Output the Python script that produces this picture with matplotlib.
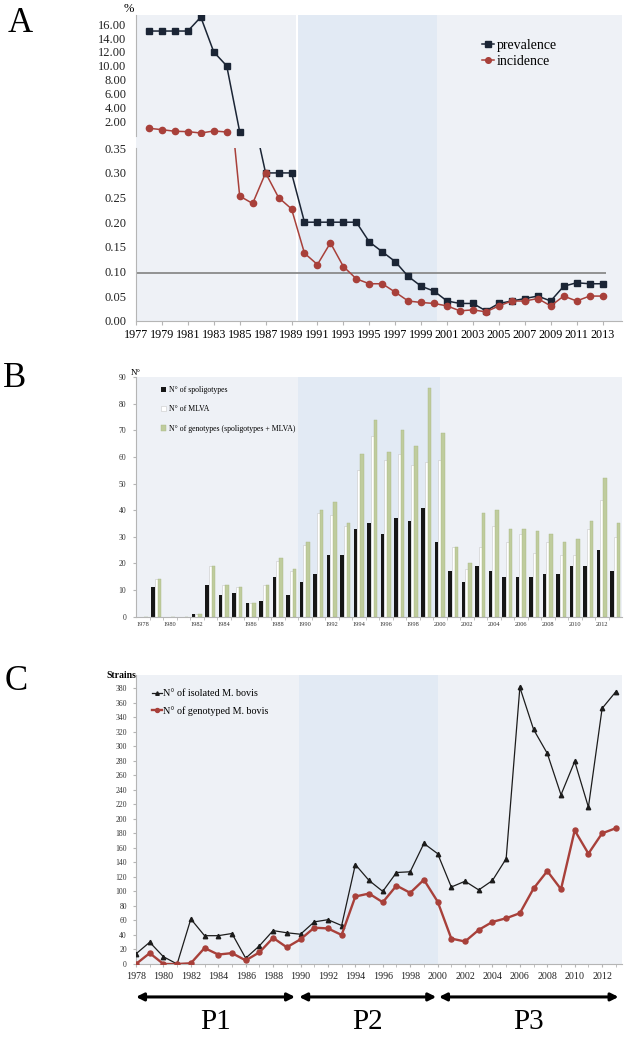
import matplotlib
matplotlib.use("Agg")
import matplotlib.pyplot as plt

plt.rcParams["font.family"] = ["Liberation Serif", "DejaVu Serif"]

# --- Data ---
years = list(range(1978, 2014))

# panel A (%), broken axis: upper part shows the early high values
prevalence = [15, 15, 15, 15, 17, 12, 10, 0.56, 0.42,
              0.30, 0.30, 0.30, 0.20, 0.20, 0.20, 0.20, 0.20, 0.16, 0.14,
              0.12, 0.09, 0.07, 0.06, 0.04, 0.035, 0.035, 0.02, 0.035, 0.04,
              0.045, 0.05, 0.04, 0.07, 0.077, 0.075, 0.075]
incidence = [1.05, 0.85, 0.62, 0.57, 0.37, 0.66, 0.52,
             0.253, 0.238, 0.30, 0.25, 0.227, 0.137, 0.114, 0.158, 0.11,
             0.085, 0.075, 0.075, 0.058, 0.04, 0.037, 0.035, 0.03, 0.02,
             0.022, 0.018, 0.03, 0.04, 0.04, 0.045, 0.03, 0.05, 0.04, 0.05, 0.05]
threshold = 0.096

# panel B (counts)
n_spoligotypes = [0, 11, 0, 0, 1, 12, 8, 9, 5, 6, 15, 8, 13, 16, 23, 23, 33, 35,
                  31, 37, 36, 41, 28, 17, 13, 19, 17, 15, 15, 15, 16, 16, 19, 19, 25, 17]
n_mlva = [0, 14, 0, 0, 1, 19, 12, 11, 5, 12, 21, 17, 27, 39, 38, 34, 55, 68,
          59, 61, 57, 58, 59, 26, 18, 26, 34, 28, 31, 24, 28, 23, 23, 33, 44, 30]
n_genotypes = [0, 14, 0, 0, 1, 19, 12, 11, 5, 12, 22, 18, 28, 40, 43, 35, 61, 74,
               62, 70, 64, 86, 69, 26, 20, 39, 40, 33, 33, 32, 31, 28, 29, 36, 52, 35]

# panel C (strains)
n_isolated = [14, 30, 10, 0, 62, 39, 39, 42, 8, 25, 46, 43, 41, 58, 61, 53, 137, 115,
              100, 126, 127, 166, 152, 106, 114, 102, 115, 145, 381, 323, 290, 233,
              279, 216, 352, 375]
n_genotyped = [0, 15, 0, 0, 1, 22, 13, 15, 5, 16, 36, 23, 34, 50, 49, 40, 93, 97,
               85, 108, 98, 116, 86, 35, 31, 47, 58, 63, 70, 104, 128, 103, 184,
               152, 180, 187]

periods = ["P1", "P2", "P3"]

# --- Layout helpers ---
W, H = 627, 1037
fig = plt.figure(figsize=(W / 100, H / 100), dpi=100)


def px_axes(x0, y0, x1, y1):
    return fig.add_axes([x0 / W, 1 - y1 / H, (x1 - x0) / W, (y1 - y0) / H])


light = "#eef1f6"
blue = "#e2eaf4"
red = "#a8403a"
navy = "#1b2535"
grid_gray = "#b5b5b5"


def shade(ax, x0, p2a, p2b, x1):
    ax.axvspan(x0, p2a, color=light, lw=0, zorder=0)
    ax.axvspan(p2a, p2b, color=blue, lw=0, zorder=0)
    ax.axvspan(p2b, x1, color=light, lw=0, zorder=0)


# ---------------- Panel A ----------------
bg = px_axes(136, 15, 622, 320.7)
bg.set_xlim(1977, 2014.5)
shade(bg, 1977, 1989.44, 2000.24, 2014.5)
bg.axvline(1989.44, color="white", lw=1.5)
bg.axis("off")

top = px_axes(136, 15, 622, 135.6)
low = px_axes(136, 148.3, 622, 320.7)
for ax in (top, low):
    ax.set_facecolor("none")
    ax.set_xlim(1977, 2014.5)
    for s in ("top", "right"):
        ax.spines[s].set_visible(False)
    ax.spines["left"].set_color(grid_gray)
    ax.tick_params(axis="y", length=0, pad=7, labelsize=9, colors="#222222")

top.spines["bottom"].set_visible(False)
top.set_xticks([])
top.set_ylim(0, 17.3)
top.set_yticks(range(2, 17, 2))
top.set_yticklabels([f"{v:.2f}" for v in range(2, 17, 2)])
top.plot(years[:8], prevalence[:8], color=navy, lw=1.1, marker="s", ms=4.5,
         label="prevalence")
top.plot(years[:7], incidence[:7], color=red, lw=1.1, marker="o", ms=4.5,
         label="incidence")
top.legend(loc="upper left", bbox_to_anchor=(0.70, 0.85), frameon=False,
           fontsize=10, handlelength=0.9, handletextpad=0.15, labelspacing=0.25,
           borderaxespad=0, markerscale=0.9)
top.text(-0.005, 1.05, "%", transform=top.transAxes, fontsize=9, ha="right",
         va="center")

low.set_ylim(0, 0.35)
low.set_yticks([0, 0.05, 0.10, 0.15, 0.20, 0.25, 0.30, 0.35])
low.set_yticklabels([f"{v:.2f}" for v in low.get_yticks()])
low.spines["bottom"].set_color(grid_gray)
low.hlines(threshold, 1977, 2013.3, color="#8a8a8a", lw=1.3)
low.plot(years, prevalence, color=navy, lw=1.1, marker="s", ms=4.5)
low.plot(years, incidence, color=red, lw=1.1, marker="o", ms=4.5)
low.set_xticks(range(1977, 2014, 2))
low.tick_params(axis="x", length=3, color=grid_gray, labelsize=8.7, pad=3)

fig.text(8 / W, 1 - 24 / H, "A", fontsize=25, va="center", ha="left")

# ---------------- Panel B ----------------
axb = px_axes(136, 377, 622, 616.7)
axb.set_xlim(1977.5, 2013.5)
axb.set_ylim(0, 90)
shade(axb, 1977.5, 1989.5, 2000.0, 2013.5)
bw = 0.24
axb.bar([y - bw for y in years], n_spoligotypes, width=bw, color="#161616",
        label="N° of spoligotypes", zorder=2)
axb.bar(years, n_mlva, width=bw, color="white", edgecolor="#c8c8c8", lw=0.4,
        label="N° of MLVA", zorder=2)
axb.bar([y + bw for y in years], n_genotypes, width=bw, color="#bfcc9d",
        edgecolor="#a9b884", lw=0.3,
        label="N° of genotypes (spoligotypes + MLVA)", zorder=2)
for s in ("top", "right"):
    axb.spines[s].set_visible(False)
axb.spines["left"].set_color(grid_gray)
axb.spines["bottom"].set_color(grid_gray)
axb.set_yticks(range(0, 91, 10))
axb.tick_params(axis="y", length=2, color=grid_gray, labelsize=5.5, pad=5,
                colors="#333333")
axb.set_xticks(range(1978, 2013, 2))
axb.set_xticks([y + 0.5 for y in years[:-1]], minor=True)
axb.tick_params(axis="x", which="major", length=0, labelsize=4.6, pad=4,
                labelcolor="#333333")
axb.tick_params(axis="x", which="minor", length=2, color=grid_gray)
axb.legend(loc="upper left", bbox_to_anchor=(0.045, 0.975), frameon=False,
           fontsize=5.6, handlelength=0.7, handleheight=0.7, handletextpad=0.3,
           labelspacing=1.45, borderaxespad=0)
axb.text(-0.01, 1.0, "N°", transform=axb.transAxes, fontsize=6.5, ha="left",
         va="bottom")

fig.text(3 / W, 1 - 379 / H, "B", fontsize=25, va="center", ha="left")

# ---------------- Panel C ----------------
axc = px_axes(136, 675, 622, 964)
axc.set_xlim(1978, 2013.45)
axc.set_ylim(0, 398)
shade(axc, 1978, 1989.9, 2000.0, 2013.45)
axc.plot(years, n_isolated, color="#1c1c1c", lw=0.9, marker="^", ms=3.2,
         label="N° of isolated M. bovis", zorder=3)
axc.plot(years, n_genotyped, color=red, lw=1.7, marker="o", ms=3.6,
         label="N° of genotyped M. bovis", zorder=3)
for s in ("top", "right"):
    axc.spines[s].set_visible(False)
axc.spines["left"].set_color(grid_gray)
axc.spines["bottom"].set_color(grid_gray)
axc.set_yticks(range(0, 381, 20))
axc.tick_params(axis="y", length=2.5, color=grid_gray, labelsize=5.5, pad=4,
                colors="#333333")
axc.set_xticks(range(1978, 2013, 2))
axc.set_xticks(years, minor=True)
axc.tick_params(axis="x", which="major", length=2, color=grid_gray,
                labelsize=7.2, pad=4, labelcolor="#222222")
axc.tick_params(axis="x", which="minor", length=2, color=grid_gray)
axc.legend(loc="upper left", bbox_to_anchor=(0.025, 0.965), frameon=False,
           fontsize=7.3, handlelength=1.0, handletextpad=0.1, labelspacing=0.75,
           borderaxespad=0, markerscale=0.8)
axc.text(0.0, 1.0, "Strains", transform=axc.transAxes, fontsize=7,
         fontweight="bold", ha="right", va="center")

fig.text(5 / W, 1 - 681 / H, "C", fontsize=25, va="center", ha="left")

# period arrows under panel C
spans = [(1978.0, 1989.6), (1989.9, 1999.9), (2000.1, 2013.2)]
for name, (a, b) in zip(periods, spans):
    axc.annotate("", xy=(a, -0.114), xytext=(b, -0.114),
                 xycoords=("data", "axes fraction"),
                 textcoords=("data", "axes fraction"),
                 arrowprops=dict(arrowstyle="<|-|>", lw=2.2, color="black",
                                 mutation_scale=11, shrinkA=0, shrinkB=0),
                 annotation_clip=False)
    x_mid = axc.transData.transform(((a + b) / 2, 0))[0] / W
    fig.text(x_mid, 8 / H, name, fontsize=21, ha="center", va="baseline")

fig.savefig("out.png", dpi=100)
